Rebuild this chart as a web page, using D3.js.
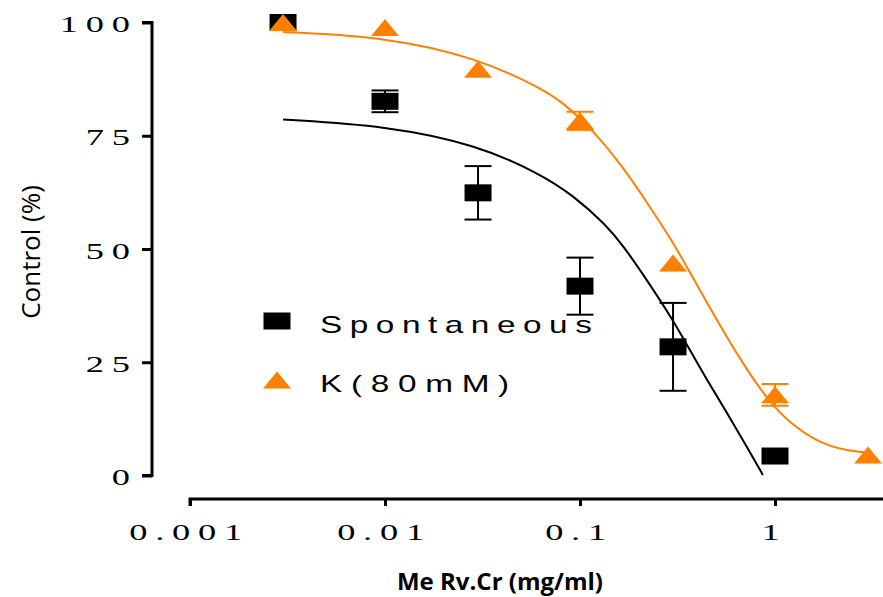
<!DOCTYPE html>
<html>
<head>
<meta charset="utf-8">
<script src="https://cdn.jsdelivr.net/npm/d3@7"></script>
<style>
  body { margin: 0; background: #fff; }
</style>
</head>
<body>
<svg></svg>
<script>
const width = 883;
const height = 597;

// measured points
const doses = [0.003, 0.01, 0.03, 0.1, 0.3, 1];
const spontMean = [100, 82.6, 62.4, 41.8, 28.4, 4.3];
const spontErr = [0, 2.4, 5.9, 6.3, 9.7, 0];

const kDoses = [0.003, 0.01, 0.03, 0.1, 0.3, 1, 3];
const kMean = [100, 98.9, 89.7, 78.3, 46.9, 17.8, 4.5];
const kErr = [0, 0, 0, 2.0, 0, 2.4, 0];

// fitted curves
const spontFitX = [0.003, 0.0102, 0.0297, 0.0624, 0.092, 0.137, 0.166, 0.221, 0.3, 0.366, 0.448, 0.568, 0.718, 0.867];
const spontFitY = [78.6, 77.2, 73.0, 66.6, 61.9, 55.2, 50.8, 43.1, 34.3, 27.7, 21.1, 13.8, 6.3, 0.1];

const kFitX = [0.003, 0.0102, 0.0297, 0.0624, 0.0788, 0.1167, 0.166, 0.2287, 0.3, 0.337, 0.448, 0.662, 0.942, 1.194, 1.642, 2.339, 3.07];
const kFitY = [97.9, 96.8, 92.2, 85.6, 82.9, 76.3, 68.1, 59.3, 51.4, 47.6, 38.1, 25.5, 16.0, 11.6, 7.4, 5.4, 5.0];

const xTicks = [0.001, 0.01, 0.1, 1];
const xTickLabels = ["0.001", "0.01", "0.1", "1"];
const yTicks = [0, 25, 50, 75, 100];

const seriesNames = ["Spontaneous", "K(80mM)"];
const orange = "#ff8000";

// the original picture is stretched sideways, so the labels are too
const stretch = 1.55;

const svg = d3.select("svg")
    .attr("width", width)
    .attr("height", height);

const x = d3.scaleLog()
    .domain([0.001, Math.pow(10, 0.56)])
    .range([190, 190 + 3.56 * 195]);

const y = d3.scaleLinear()
    .domain([0, 100])
    .range([475.5, 22.5]);

function styleTickText(sel) {
    sel.attr("font-family", "'Liberation Serif', 'Times New Roman', serif")
        .attr("font-size", 23.5)
        .attr("letter-spacing", 5)
        .attr("fill", "#000")
        .attr("dy", null)
        .attr("transform", `scale(${stretch},1)`);
}

// y axis
const yAxis = svg.append("g")
    .attr("transform", "translate(152,0)")
    .call(d3.axisLeft(y).tickValues(yTicks).tickSize(10).tickFormat(d3.format("d")));
yAxis.select(".domain").attr("d", `M-10,${y(0)}H0V${y(100)}H-10`).attr("stroke-width", 3).attr("stroke", "#000");
yAxis.selectAll(".tick line").attr("stroke-width", 3).attr("stroke", "#000");
yAxis.selectAll(".tick text")
    .call(styleTickText)
    .attr("x", -14.3 / stretch)
    .attr("y", 9);

// x axis
const xAxis = svg.append("g")
    .attr("transform", "translate(0,499)")
    .call(d3.axisBottom(x).tickValues(xTicks).tickSize(7).tickFormat((d, i) => xTickLabels[i]));
xAxis.select(".domain").attr("d", `M${x(0.001)},7V0H${width}`).attr("stroke-width", 3).attr("stroke", "#000");
xAxis.selectAll(".tick line").attr("stroke-width", 3).attr("stroke", "#000");
xAxis.selectAll(".tick text")
    .call(styleTickText)
    .attr("x", -1 / stretch)
    .attr("y", 41);

// axis titles
svg.append("text")
    .attr("transform", "translate(40,252) rotate(-90)")
    .attr("text-anchor", "middle")
    .attr("font-family", "'Open Sans', sans-serif")
    .attr("font-size", 26)
    .text("Control (%)");

svg.append("text")
    .attr("x", 500)
    .attr("y", 590)
    .attr("text-anchor", "middle")
    .attr("font-family", "'Open Sans', sans-serif")
    .attr("font-size", 24)
    .attr("font-weight", "bold")
    .text("Me Rv.Cr (mg/ml)");

// fitted curves
const line = d3.line()
    .x(d => x(d[0]))
    .y(d => y(d[1]))
    .curve(d3.curveBasis);

svg.append("path")
    .datum(d3.zip(spontFitX, spontFitY))
    .attr("fill", "none")
    .attr("stroke", "#000")
    .attr("stroke-width", 2)
    .attr("d", line);

svg.append("path")
    .datum(d3.zip(kFitX, kFitY))
    .attr("fill", "none")
    .attr("stroke", orange)
    .attr("stroke-width", 2)
    .attr("d", line);

// error bars
function errorBars(xs, means, errs, color) {
    const g = svg.append("g").attr("stroke", color).attr("stroke-width", 2);
    xs.forEach((d, i) => {
        if (!errs[i]) return;
        const cx = x(d);
        const top = y(means[i] + errs[i]);
        const bot = y(means[i] - errs[i]);
        g.append("line").attr("x1", cx).attr("x2", cx).attr("y1", top).attr("y2", bot);
        g.append("line").attr("x1", cx - 13.5).attr("x2", cx + 13.5).attr("y1", top).attr("y2", top);
        g.append("line").attr("x1", cx - 13.5).attr("x2", cx + 13.5).attr("y1", bot).attr("y2", bot);
    });
}

const squarePath = "M-13.5,-8.5H13.5V8.5H-13.5Z";
const trianglePath = "M0,-8.5L14,8.5H-14Z";

errorBars(doses, spontMean, spontErr, "#000");
svg.append("g").selectAll("path")
    .data(d3.zip(doses, spontMean))
    .enter()
    .append("path")
    .attr("d", squarePath)
    .attr("fill", "#000")
    .attr("transform", d => `translate(${x(d[0])},${y(d[1])})`);

errorBars(kDoses, kMean, kErr, orange);
svg.append("g").selectAll("path")
    .data(d3.zip(kDoses, kMean))
    .enter()
    .append("path")
    .attr("d", trianglePath)
    .attr("fill", orange)
    .attr("transform", d => `translate(${x(d[0])},${y(d[1])})`);

// legend
const legendStretch = 1.45;
const legend = svg.append("g").attr("id", "legend");
const legendY = [321, 380];
legend.append("path")
    .attr("d", squarePath)
    .attr("fill", "#000")
    .attr("transform", `translate(277,${legendY[0]})`);
legend.append("path")
    .attr("d", trianglePath)
    .attr("fill", orange)
    .attr("transform", `translate(277,${legendY[1]})`);
legend.selectAll("text")
    .data(seriesNames)
    .enter()
    .append("text")
    .attr("font-family", "'Liberation Sans', Arial, sans-serif")
    .attr("font-size", 23)
    .attr("letter-spacing", (d, i) => i === 0 ? 5.2 : 6)
    .attr("transform", `scale(${legendStretch},1)`)
    .attr("x", 320 / legendStretch)
    .attr("y", (d, i) => legendY[i] + 12)
    .text(d => d);
</script>
</body>
</html>
